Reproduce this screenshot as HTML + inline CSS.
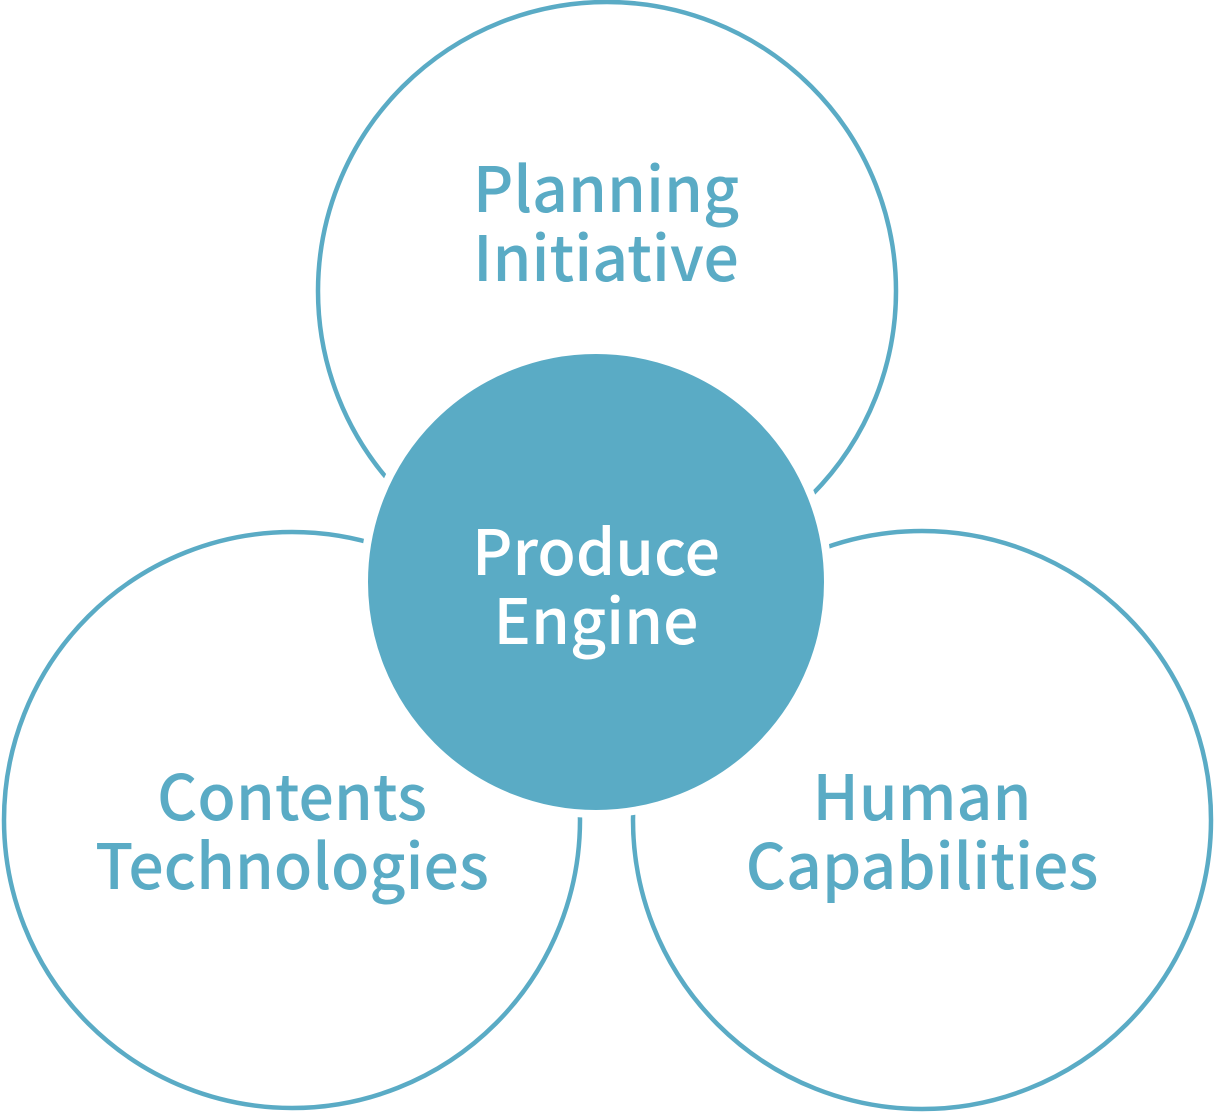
<!DOCTYPE html>
<html><head><meta charset="utf-8"><style>
html,body{margin:0;padding:0;background:#fff;}
svg{display:block;}
text{font-family:"Noto Sans CJK JP","Liberation Sans",sans-serif;font-weight:500;font-size:62.5px;text-anchor:middle;}
</style></head><body>
<svg width="1214" height="1113" viewBox="0 0 1214 1113">
<g fill="none" stroke="#5aabc5" stroke-width="4.5">
<circle cx="607" cy="291" r="289"/>
<circle cx="292" cy="820" r="288"/>
<circle cx="922" cy="820" r="289"/>
</g>
<circle cx="596" cy="582" r="232" fill="#5aabc5" stroke="#fff" stroke-width="8"/>
<g fill="#5aabc5">
<text x="606" y="212">Planning</text>
<text x="606" y="281">Initiative</text>
<text x="292" y="820">Contents</text>
<text x="292" y="889">Technologies</text>
<text x="922" y="820">Human</text>
<text x="922" y="889">Capabilities</text>
</g>
<g fill="#fff">
<text x="596" y="575">Produce</text>
<text x="596" y="644">Engine</text>
</g>
</svg>
</body></html>
